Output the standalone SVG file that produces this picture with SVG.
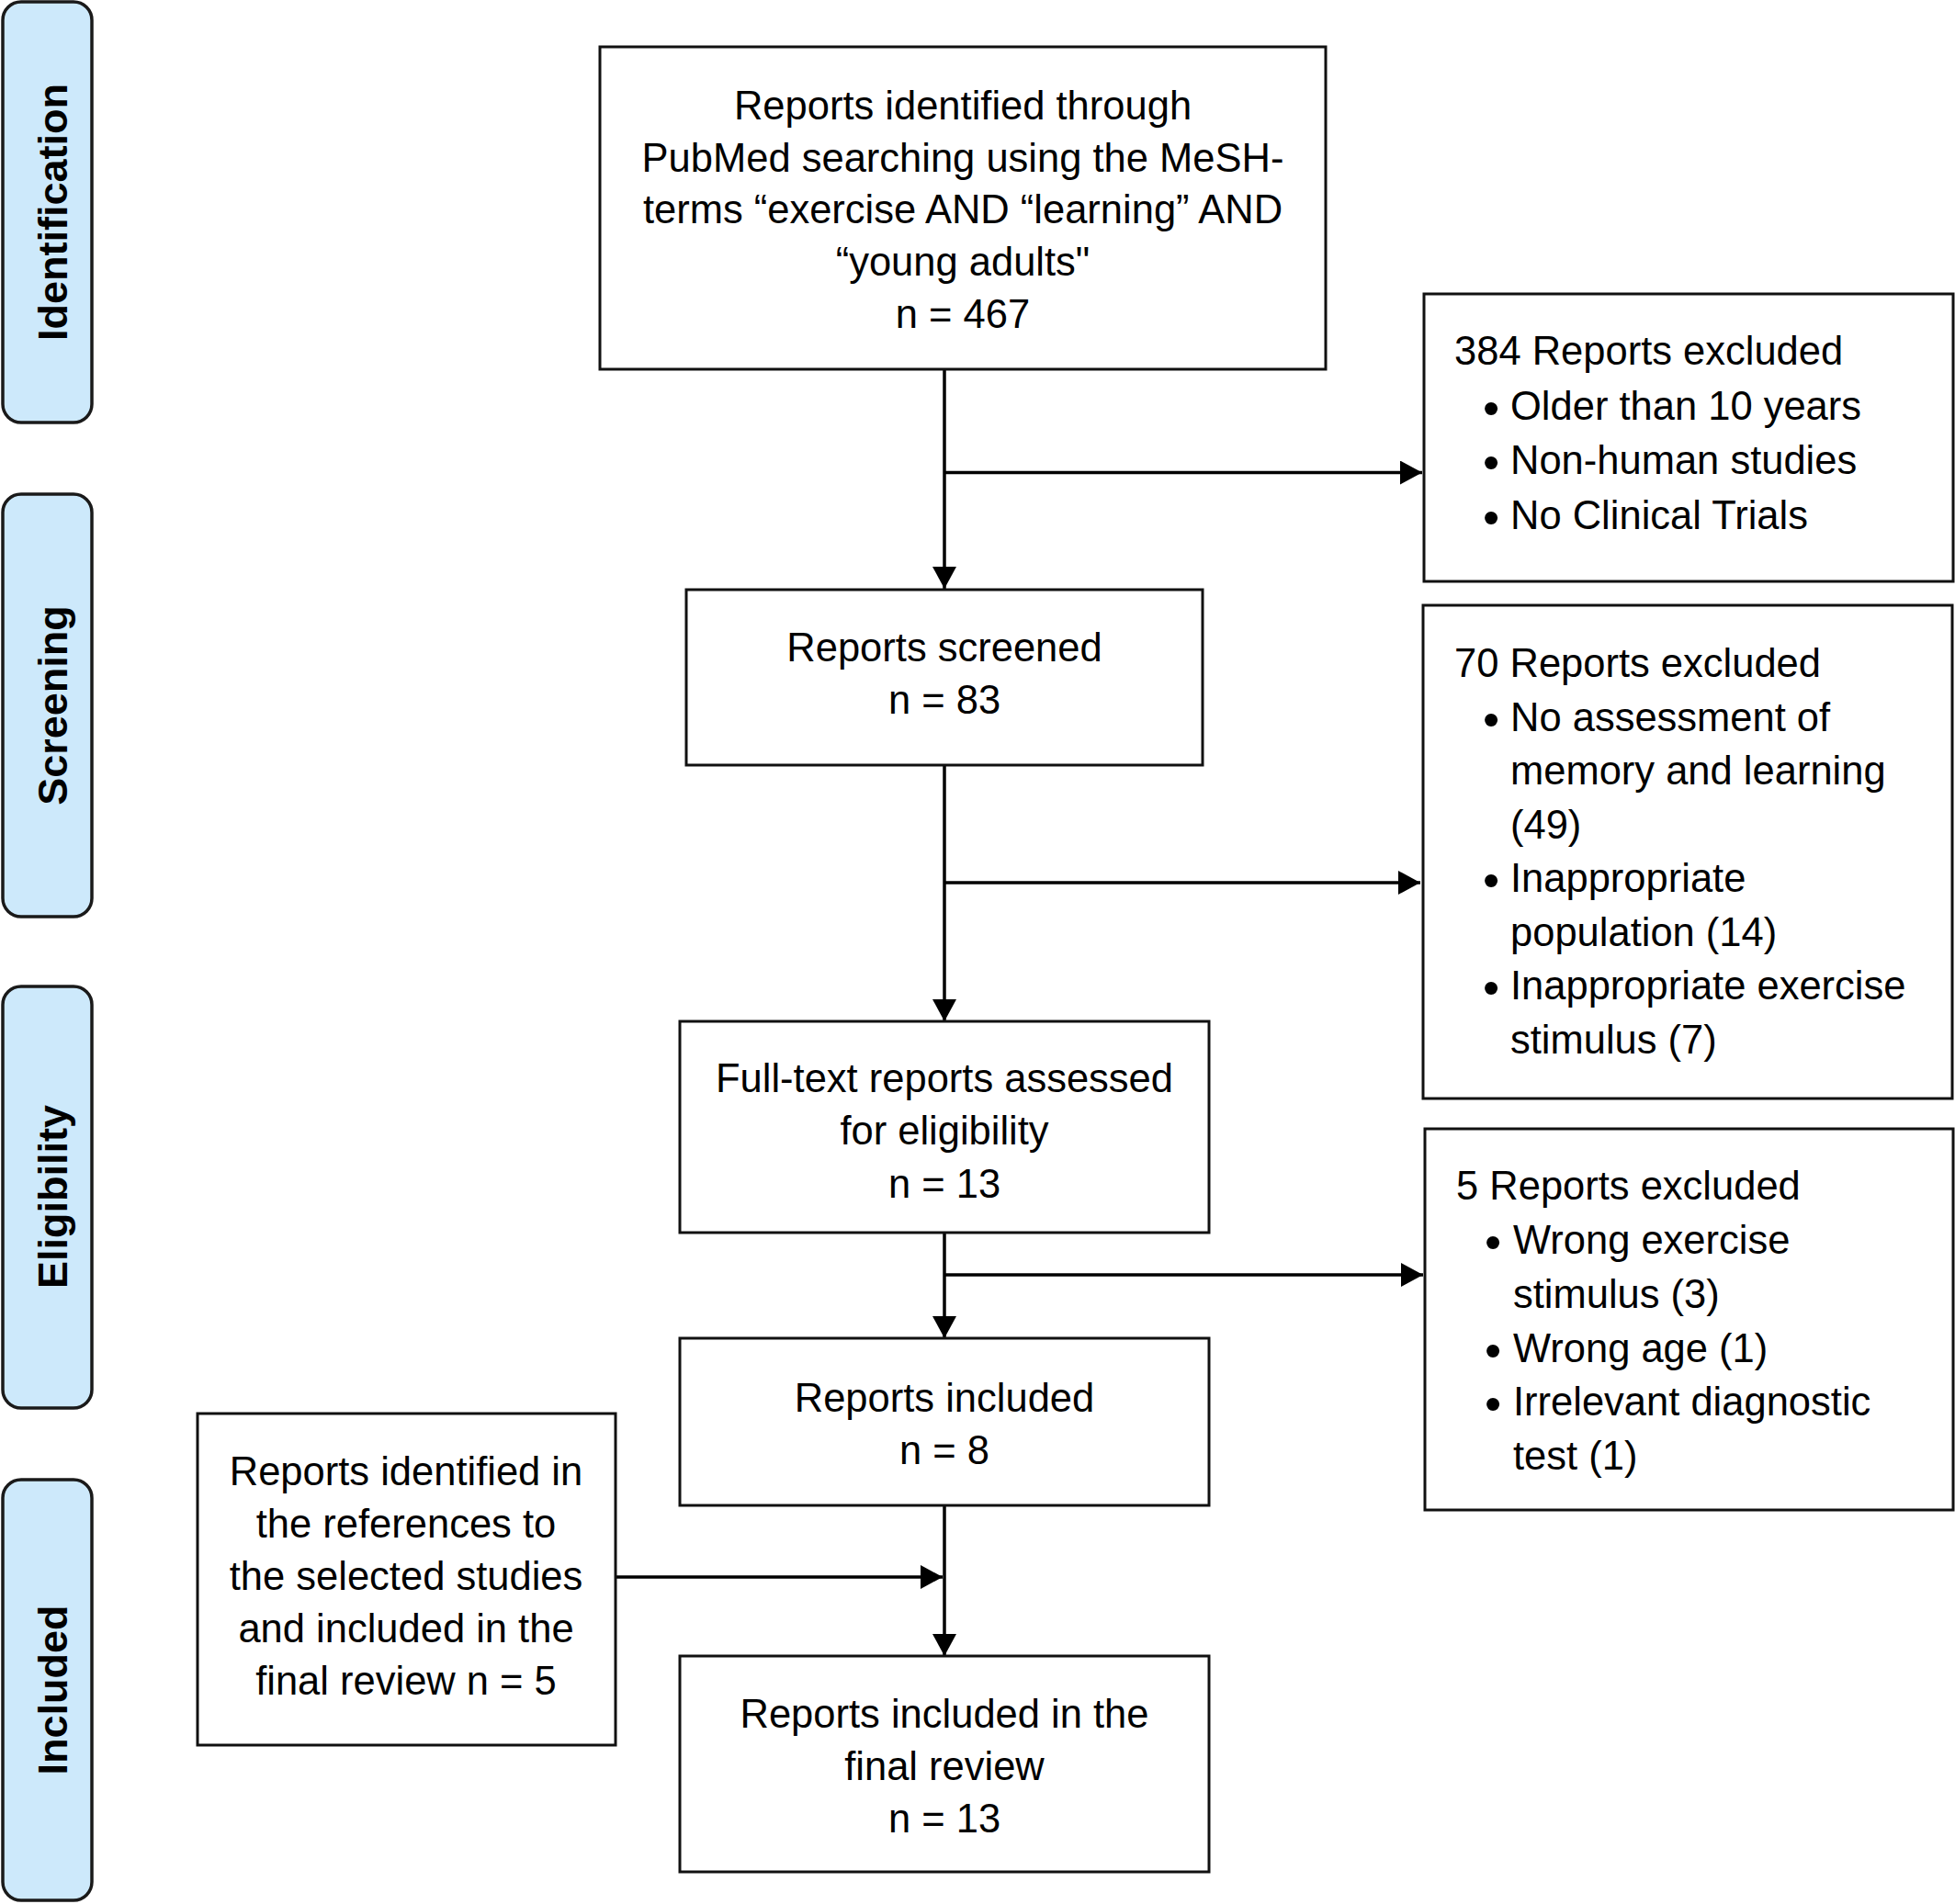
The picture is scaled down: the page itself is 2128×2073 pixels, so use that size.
<svg xmlns="http://www.w3.org/2000/svg" width="2128" height="2073" viewBox="0 0 2128 2073">
<defs>
<style>
.box{fill:#fff;stroke:#111;stroke-width:3}
.side{fill:#cde9fb;stroke:#1a1a1a;stroke-width:3.5}
.t{font-family:"Liberation Sans",Arial,sans-serif;font-size:43.5px;fill:#000}
.c{text-anchor:middle}
.b{font-size:52px}
.lab{font-family:"Liberation Sans",Arial,sans-serif;font-size:45px;font-weight:bold;fill:#000;text-anchor:middle}
.ln{fill:none;stroke:#000;stroke-width:3.5}
</style>
<marker id="ah" markerWidth="24" markerHeight="26" refX="24" refY="13" orient="auto" markerUnits="userSpaceOnUse">
<path d="M0,0 L24,13 L0,26 z" fill="#000"/>
</marker>
</defs>
<rect width="2128" height="2073" fill="#fff"/>

<g id="label-identification">
<rect class="side" x="3" y="2" width="97" height="458" rx="20"/>
<text class="lab" transform="translate(73,231) rotate(-90)">Identification</text>
</g>
<g id="label-screening">
<rect class="side" x="3" y="538" width="97" height="460" rx="20"/>
<text class="lab" transform="translate(73,768) rotate(-90)">Screening</text>
</g>
<g id="label-eligibility">
<rect class="side" x="3" y="1074" width="97" height="459" rx="20"/>
<text class="lab" transform="translate(73,1303) rotate(-90)">Eligibility</text>
</g>
<g id="label-included">
<rect class="side" x="3" y="1611" width="97" height="458" rx="20"/>
<text class="lab" transform="translate(73,1840) rotate(-90)">Included</text>
</g>

<g id="connectors">
<line class="ln" x1="1028" y1="402" x2="1028" y2="641" marker-end="url(#ah)"/>
<line class="ln" x1="1028" y1="514.5" x2="1548" y2="514.5" marker-end="url(#ah)"/>
<line class="ln" x1="1028" y1="834" x2="1028" y2="1112" marker-end="url(#ah)"/>
<line class="ln" x1="1028" y1="961" x2="1546" y2="961" marker-end="url(#ah)"/>
<line class="ln" x1="1028" y1="1342" x2="1028" y2="1457" marker-end="url(#ah)"/>
<line class="ln" x1="1028" y1="1388" x2="1549" y2="1388" marker-end="url(#ah)"/>
<line class="ln" x1="1028" y1="1639" x2="1028" y2="1803" marker-end="url(#ah)"/>
<line class="ln" x1="670" y1="1717" x2="1026" y2="1717" marker-end="url(#ah)"/>
</g>

<g id="node-identified">
<rect class="box" x="653" y="51" width="790" height="351"/>
<text class="t c" x="1048" y="130">Reports identified through</text>
<text class="t c" x="1048" y="186.5">PubMed searching using the MeSH-</text>
<text class="t c" x="1048" y="243">terms “exercise AND “learning” AND</text>
<text class="t c" x="1048" y="300">“young adults"</text>
<text class="t c" x="1048" y="357">n = 467</text>
</g>

<g id="node-excluded-384">
<rect class="box" x="1550" y="320" width="576" height="313"/>
<text class="t" x="1583" y="397">384 Reports excluded</text>
<text class="t" y="456.5"><tspan class="b" x="1614" dy="5">•</tspan><tspan x="1644" dy="-5">Older than 10 years</tspan></text>
<text class="t" y="516"><tspan class="b" x="1614" dy="5">•</tspan><tspan x="1644" dy="-5">Non-human studies</tspan></text>
<text class="t" y="575.5"><tspan class="b" x="1614" dy="5">•</tspan><tspan x="1644" dy="-5">No Clinical Trials</tspan></text>
</g>

<g id="node-screened">
<rect class="box" x="747" y="642" width="562" height="191"/>
<text class="t c" x="1028" y="720">Reports screened</text>
<text class="t c" x="1028" y="777">n = 83</text>
</g>

<g id="node-excluded-70">
<rect class="box" x="1549" y="659" width="576" height="537"/>
<text class="t" x="1583" y="737">70 Reports excluded</text>
<text class="t" y="795.5"><tspan class="b" x="1614" dy="5">•</tspan><tspan x="1644" dy="-5">No assessment of</tspan></text>
<text class="t" x="1644" y="854">memory and learning</text>
<text class="t" x="1644" y="912.5">(49)</text>
<text class="t" y="971"><tspan class="b" x="1614" dy="5">•</tspan><tspan x="1644" dy="-5">Inappropriate</tspan></text>
<text class="t" x="1644" y="1029.5">population (14)</text>
<text class="t" y="1088"><tspan class="b" x="1614" dy="5">•</tspan><tspan x="1644" dy="-5">Inappropriate exercise</tspan></text>
<text class="t" x="1644" y="1146.5">stimulus (7)</text>
</g>

<g id="node-fulltext">
<rect class="box" x="740" y="1112" width="576" height="230"/>
<text class="t c" x="1028" y="1189">Full-text reports assessed</text>
<text class="t c" x="1028" y="1246">for eligibility</text>
<text class="t c" x="1028" y="1304">n = 13</text>
</g>

<g id="node-excluded-5">
<rect class="box" x="1551" y="1229" width="575" height="415"/>
<text class="t" x="1585" y="1306">5 Reports excluded</text>
<text class="t" y="1365"><tspan class="b" x="1616" dy="5">•</tspan><tspan x="1647" dy="-5">Wrong exercise</tspan></text>
<text class="t" x="1647" y="1423.5">stimulus (3)</text>
<text class="t" y="1482.5"><tspan class="b" x="1616" dy="5">•</tspan><tspan x="1647" dy="-5">Wrong age (1)</tspan></text>
<text class="t" y="1541"><tspan class="b" x="1616" dy="5">•</tspan><tspan x="1647" dy="-5">Irrelevant diagnostic</tspan></text>
<text class="t" x="1647" y="1600">test (1)</text>
</g>

<g id="node-included">
<rect class="box" x="740" y="1457" width="576" height="182"/>
<text class="t c" x="1028" y="1537">Reports included</text>
<text class="t c" x="1028" y="1594">n = 8</text>
</g>

<g id="node-references">
<rect class="box" x="215" y="1539" width="455" height="361"/>
<text class="t c" x="442" y="1617">Reports identified in</text>
<text class="t c" x="442" y="1674">the references to</text>
<text class="t c" x="442" y="1731">the selected studies</text>
<text class="t c" x="442" y="1788">and included in the</text>
<text class="t c" x="442" y="1845">final review n = 5</text>
</g>

<g id="node-final">
<rect class="box" x="740" y="1803" width="576" height="235"/>
<text class="t c" x="1028" y="1881">Reports included in the</text>
<text class="t c" x="1028" y="1938">final review</text>
<text class="t c" x="1028" y="1995">n = 13</text>
</g>
</svg>
